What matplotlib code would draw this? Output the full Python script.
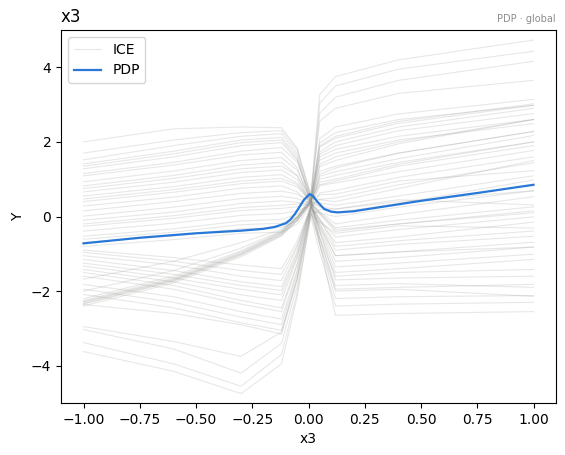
import matplotlib
matplotlib.use("Agg")
import matplotlib.pyplot as plt

# grid positions (x3) at which each ICE curve is sampled
ice_x = [-1.0, -0.6, -0.3, -0.12, -0.05, 0.01, 0.05, 0.12, 0.4, 1.0]

# ICE curves: predicted Y at each ice_x position
ice_curves = [
    [2.00, 2.35, 2.40, 2.38, 1.83, 0.55, -0.73, -2.65, -2.60, -2.55],
    [1.70, 2.05, 2.25, 2.30, 1.79, 0.60, 2.56, 2.90, 3.30, 3.65],
    [1.52, 1.90, 2.15, 2.22, 1.70, 0.50, 0.45, 0.40, 0.75, 1.50],
    [1.41, 1.75, 2.05, 2.12, 1.62, 0.45, -0.41, -1.70, -1.65, -1.60],
    [1.35, 1.68, 1.98, 2.05, 1.55, 0.40, 1.89, 2.15, 2.55, 3.02],
    [1.28, 1.60, 1.90, 1.98, 1.51, 0.40, 1.34, 1.50, 1.95, 2.60],
    [1.15, 1.45, 1.75, 1.85, 1.46, 0.55, 3.27, 3.75, 4.20, 4.73],
    [1.09, 1.38, 1.65, 1.72, 1.31, 0.35, 0.05, -0.40, -0.20, 0.15],
    [0.93, 1.22, 1.50, 1.58, 1.24, 0.45, 0.92, 1.00, 1.40, 2.00],
    [0.82, 1.10, 1.38, 1.45, 1.10, 0.30, -0.30, -1.20, -1.10, -0.82],
    [0.75, 1.02, 1.28, 1.35, 1.09, 0.50, 1.86, 2.10, 2.50, 2.98],
    [0.66, 0.92, 1.18, 1.25, 0.99, 0.40, 0.28, 0.10, 0.35, 0.98],
    [0.55, 0.80, 1.05, 1.12, 0.89, 0.35, -0.57, -1.95, -1.90, -1.82],
    [0.47, 0.72, 0.95, 1.02, 0.85, 0.45, 1.51, 1.70, 2.05, 2.49],
    [0.40, 0.65, 0.88, 0.95, 0.79, 0.40, 0.10, -0.35, -0.20, 0.10],
    [0.28, 0.52, 0.76, 0.82, 0.66, 0.30, -0.10, -0.70, -0.55, -0.15],
    [0.15, 0.40, 0.62, 0.68, 0.60, 0.40, 0.83, 0.90, 1.20, 1.77],
    [0.01, 0.25, 0.48, 0.54, 0.48, 0.35, 2.77, 3.20, 3.65, 4.16],
    [-0.10, 0.12, 0.35, 0.42, 0.38, 0.30, -0.42, -1.50, -1.40, -1.15],
    [-0.20, 0.02, 0.24, 0.30, 0.33, 0.40, 0.36, 0.30, 0.55, 1.09],
    [-0.26, -0.05, 0.16, 0.22, 0.26, 0.35, 1.67, 1.90, 2.30, 2.76],
    [-0.39, -0.18, 0.03, 0.08, 0.15, 0.30, -0.18, -0.90, -0.75, -0.53],
    [-0.53, -0.33, -0.12, -0.08, 0.06, 0.40, 1.08, 1.20, 1.55, 2.17],
    [-0.61, -0.42, -0.22, -0.18, -0.02, 0.35, 0.09, -0.30, -0.10, 0.26],
    [-0.70, -0.52, -0.33, -0.30, -0.11, 0.35, -0.21, -1.05, -0.95, -0.82],
    [-0.80, -0.62, -0.45, -0.42, -0.20, 0.30, 2.09, 2.40, 2.75, 3.14],
    [-0.90, -1.10, -1.30, -1.40, -0.66, 0.25, 0.46, 0.50, 0.85, 1.44],
    [-0.96, -1.20, -1.45, -1.55, -0.76, 0.20, -0.76, -2.20, -2.15, -2.12],
    [-1.05, -1.30, -1.60, -1.72, -0.81, 0.30, 1.40, 1.60, 2.00, 2.60],
    [-1.15, -1.45, -1.75, -1.88, -0.92, 0.25, -0.07, -0.55, -0.35, -0.01],
    [-1.25, -1.55, -1.85, -1.98, -0.98, 0.25, 0.85, 0.95, 1.35, 1.90],
    [-1.33, -1.65, -1.95, -2.10, -1.06, 0.20, 1.73, 2.00, 2.40, 2.90],
    [-1.42, -1.75, -2.10, -2.25, -1.10, 0.30, -0.36, -1.35, -1.25, -1.01],
    [-1.50, -1.85, -2.25, -2.45, -1.26, 0.20, 0.63, 0.70, 1.05, 1.60],
    [-1.60, -1.95, -2.35, -2.55, -1.29, 0.25, -0.27, -1.05, -0.95, -0.69],
    [-1.82, -2.15, -2.55, -2.75, -1.44, 0.15, 1.13, 1.30, 1.70, 2.28],
    [-1.95, -2.30, -2.70, -2.90, -1.50, 0.20, -0.62, -1.85, -1.80, -1.90],
    [-2.09, -2.45, -2.85, -3.05, -1.61, 0.15, 0.09, 0.00, 0.25, 0.69],
    [-2.36, -2.60, -2.90, -3.15, -1.69, 0.10, -0.74, -2.00, -1.95, -2.14],
    [-2.30, -1.70, -1.00, -0.45, -0.05, 0.45, 3.04, 3.50, 3.95, 4.43],
    [-2.25, -1.65, -0.95, -0.42, -0.05, 0.40, 1.00, 1.10, 1.45, 2.00],
    [-2.28, -1.68, -0.98, -0.44, -0.03, 0.42, 1.21, 1.35, 1.70, 2.28],
    [-2.33, -1.72, -1.02, -0.48, -0.11, 0.35, 0.13, -0.20, 0.05, 0.53],
    [-2.35, -1.74, -1.04, -0.50, -0.08, 0.38, 0.25, 0.20, 0.40, 0.69],
    [-2.20, -1.60, -0.92, -0.40, 0.00, 0.50, 1.60, 1.80, 2.15, 2.60],
    [-2.40, -1.78, -1.08, -0.52, -0.11, 0.40, -0.08, -0.80, -0.65, -0.39],
    [-2.00, -1.45, -0.85, -0.38, -0.01, 0.45, 0.58, 0.60, 0.95, 1.23],
    [-1.68, -1.20, -0.70, -0.35, -0.01, 0.40, 1.97, 2.25, 2.60, 2.98],
    [-2.95, -3.35, -3.75, -3.10, -1.66, 0.10, -0.58, -1.60, -1.50, -1.42],
    [-3.03, -3.55, -4.20, -3.40, -1.85, 0.05, 0.18, 0.20, 0.45, 0.31],
    [-3.38, -3.95, -4.55, -3.70, -2.03, 0.00, -0.96, -2.40, -2.35, -2.30],
    [-3.62, -4.15, -4.75, -3.95, -2.15, 0.05, -0.15, -0.45, -0.25, -0.31],
]

# partial dependence (average) curve
pdp_x = [-1.0, -0.75, -0.5, -0.3, -0.2, -0.15, -0.1, -0.08, -0.06, -0.04,
         -0.02, 0.005, 0.02, 0.04, 0.07, 0.1, 0.13, 0.2, 0.5, 0.75, 1.0]
pdp_y = [-0.72, -0.57, -0.45, -0.38, -0.33, -0.28, -0.18, -0.08, 0.07, 0.26,
         0.45, 0.60, 0.55, 0.39, 0.20, 0.13, 0.11, 0.14, 0.42, 0.63, 0.85]

fig = plt.figure(figsize=(5.65, 4.55), dpi=100)
ax = fig.add_axes([61 / 565, 52 / 455, 495 / 565, 373 / 455])

for i, ys in enumerate(ice_curves):
    ax.plot(ice_x, ys, color="#8a8a86", alpha=0.2, lw=0.8,
            label="ICE" if i == 0 else None)
ax.plot(pdp_x, pdp_y, color="#2878d8", lw=1.6, label="PDP")

ax.set_xlim(-1.1, 1.1)
ax.set_ylim(-5, 5)
ax.set_xticks([-1.0, -0.75, -0.5, -0.25, 0.0, 0.25, 0.5, 0.75, 1.0])
ax.set_yticks([-4, -2, 0, 2, 4])
ax.set_xlabel("x3")
ax.set_ylabel("Y")
ax.set_title("x3", loc="left", fontsize=12)
ax.set_title("PDP · global", loc="right", fontsize=7, color="#8c8c8c")
ax.legend(loc="upper left")

fig.savefig("out.png", dpi=100)
